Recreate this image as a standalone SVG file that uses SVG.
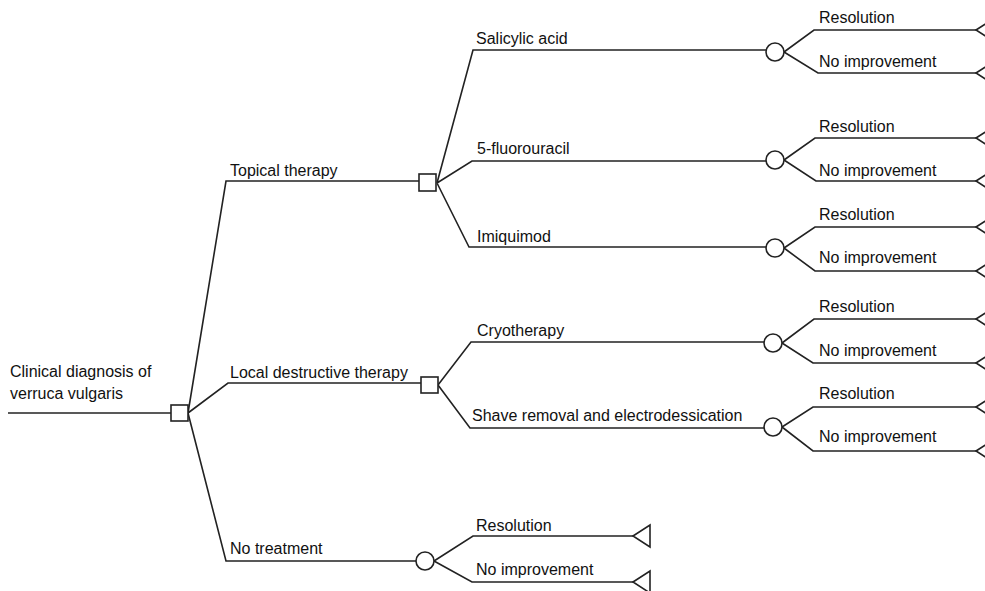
<svg xmlns="http://www.w3.org/2000/svg" width="985" height="591" viewBox="0 0 985 591">
<style>
.l{fill:none;stroke:#222;stroke-width:1.6}
.n{fill:#fff;stroke:#222;stroke-width:1.6}
text{font-family:"Liberation Sans",Arial,sans-serif;font-size:16px;fill:#111}
</style>
<defs>
<polygon id="tri" class="n" points="0,0 17,-11 17,11"/>
</defs>
<rect width="985" height="591" fill="#fff"/>
<g id="connectors">
<path class="l" d="M8,413 H171"/>
<path class="l" d="M188,413 L226,181 H419 M188,413 L228,383 H421 M188,413 L226,561 H416"/>
<path class="l" d="M437,183 L473,50 H766 M437,183 L472,161 H766 M437,183 L469,247 H766"/>
<path class="l" d="M438,385 L471,342 H764 M438,385 L470,428 H764"/>
<path class="l" d="M784,52 L814,30 H976 M784,52 L818,73 H976"/>
<path class="l" d="M784,160 L815,138 H976 M784,160 L816,181 H976"/>
<path class="l" d="M784,248 L815,227 H976 M784,248 L815,271 H976"/>
<path class="l" d="M782,343 L814,319 H976 M782,343 L813,363 H976"/>
<path class="l" d="M782,427 L813,407 H976 M782,427 L813,451 H976"/>
<path class="l" d="M434,561 L473,536 H633 M434,561 L472,582 H633"/>
</g>
<g id="root"><rect class="n" x="171" y="405" width="17" height="16"/>
<text x="10" y="377">Clinical diagnosis of</text><text x="10" y="399">verruca vulgaris</text></g>
<g id="topical"><rect class="n" x="419" y="174" width="17" height="17"/><text x="230" y="176">Topical therapy</text></g>
<g id="local"><rect class="n" x="421" y="377" width="17" height="16"/><text x="230" y="378">Local destructive therapy</text></g>
<g id="notreat"><circle class="n" cx="425" cy="561" r="9"/><text x="230" y="554">No treatment</text>
<text x="476" y="531">Resolution</text><text x="476" y="575">No improvement</text>
<use href="#tri" x="633" y="536"/><use href="#tri" x="633" y="582"/></g>
<g id="salicylic"><circle class="n" cx="775" cy="52" r="9"/><text x="476" y="44">Salicylic acid</text>
<text x="819" y="23">Resolution</text><text x="819" y="67">No improvement</text>
<use href="#tri" x="976" y="30"/><use href="#tri" x="976" y="73"/></g>
<g id="fluorouracil"><circle class="n" cx="775" cy="160" r="9"/><text x="477" y="154">5-fluorouracil</text>
<text x="819" y="132">Resolution</text><text x="819" y="176">No improvement</text>
<use href="#tri" x="976" y="138"/><use href="#tri" x="976" y="181"/></g>
<g id="imiquimod"><circle class="n" cx="775" cy="248" r="9"/><text x="477" y="242">Imiquimod</text>
<text x="819" y="220">Resolution</text><text x="819" y="263">No improvement</text>
<use href="#tri" x="976" y="227"/><use href="#tri" x="976" y="271"/></g>
<g id="cryo"><circle class="n" cx="773" cy="343" r="9"/><text x="477" y="336">Cryotherapy</text>
<text x="819" y="312">Resolution</text><text x="819" y="356">No improvement</text>
<use href="#tri" x="976" y="319"/><use href="#tri" x="976" y="363"/></g>
<g id="shave"><circle class="n" cx="773" cy="427" r="9"/><text x="472" y="421">Shave removal and electrodessication</text>
<text x="819" y="399">Resolution</text><text x="819" y="442">No improvement</text>
<use href="#tri" x="976" y="407"/><use href="#tri" x="976" y="451"/></g>
</svg>
